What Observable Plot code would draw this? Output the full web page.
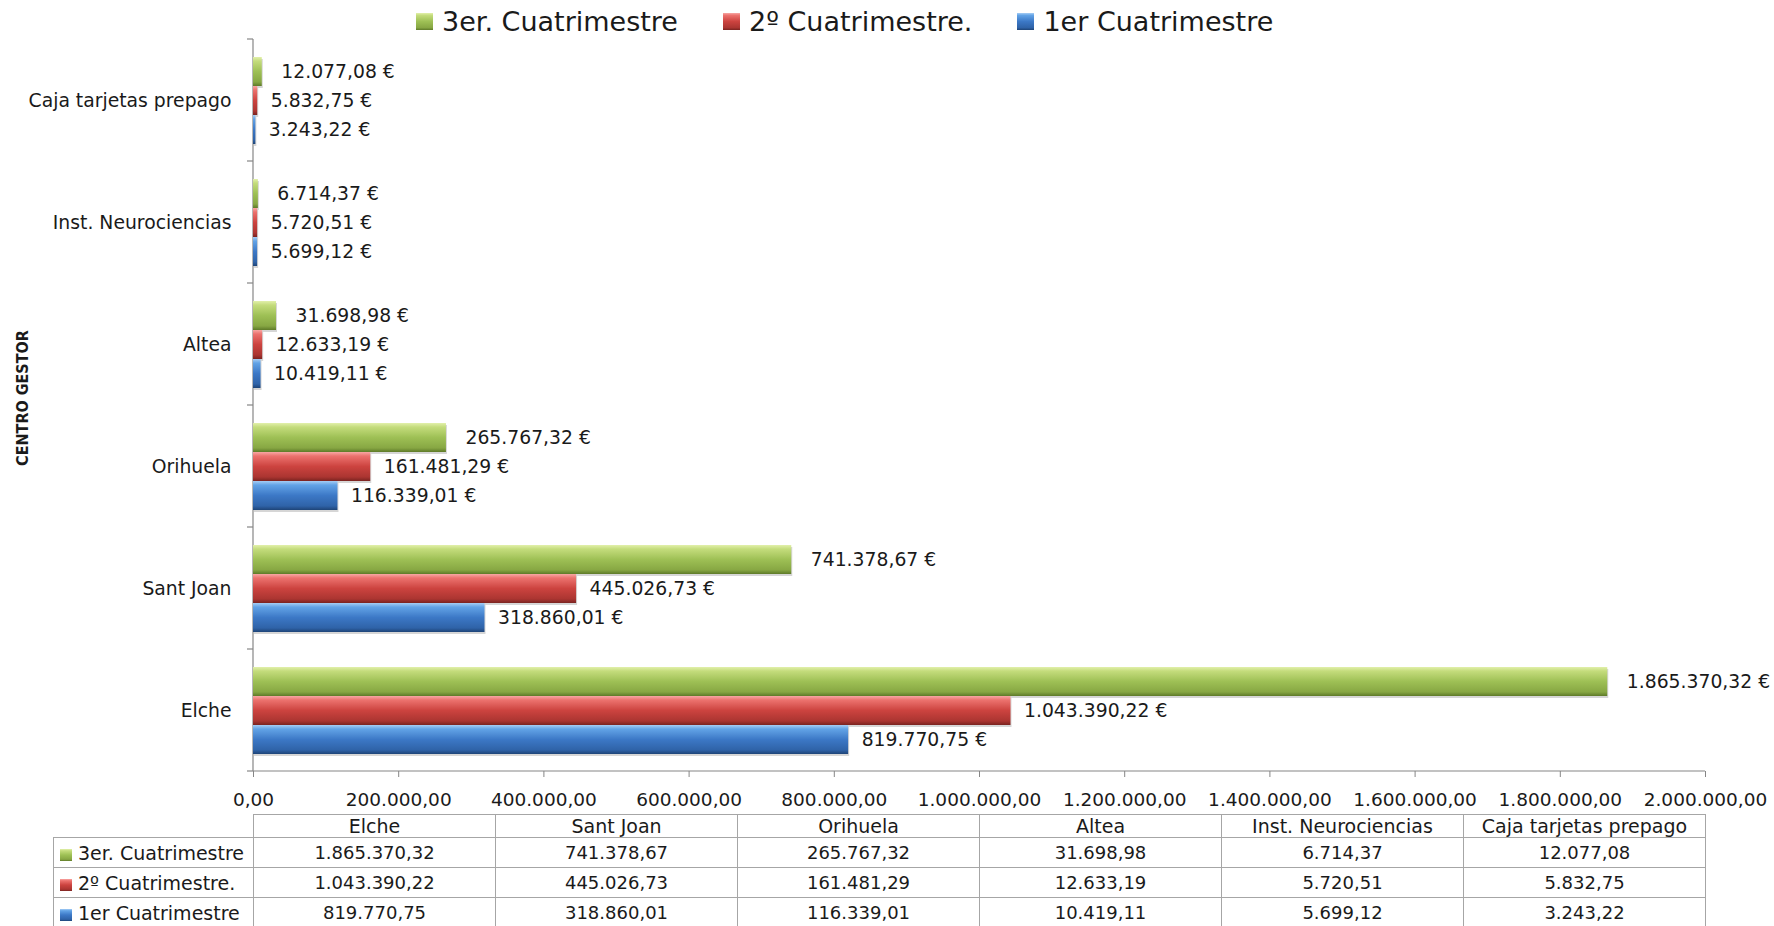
<!DOCTYPE html>
<html>
<head>
<meta charset="utf-8">
<script src="https://cdn.jsdelivr.net/npm/d3@7"></script>
<script src="https://cdn.jsdelivr.net/npm/@observablehq/plot@0.6"></script>
<style>
  html, body { margin: 0; padding: 0; background: #fff; }
  body { width: 1774px; height: 926px; overflow: hidden; position: relative; font-family: "DejaVu Sans", sans-serif; color: #1a1a1a; }
  #legend { height: 36px; display: flex; align-items: center; padding-left: 416px; font-size: 27px; box-sizing: border-box; padding-top: 6px; }
  #legend .item { display: flex; align-items: center; margin-right: 45px; }
  #legend .sw { width: 17px; height: 17px; margin-right: 9px; }
  #ylabel { position: absolute; left: 22px; top: 398px; transform: translate(-50%, -50%) rotate(-90deg); white-space: nowrap; font-family: "DejaVu Sans Condensed", "DejaVu Sans", sans-serif; font-weight: bold; font-size: 16px; }
  #chart svg { display: block; overflow: visible; }
  table { border-collapse: collapse; margin-left: 53px; table-layout: fixed; font-size: 18px; color: #1a1a1a; }
  td { border: 1px solid #a6a6a6; text-align: center; padding: 0; white-space: nowrap; overflow: hidden; }
  td.blank { border: none; }
  tr.head td { height: 22px; font-size: 19px; }
  tr.row td { height: 29px; }
  td.lab { text-align: left; padding-left: 6px; font-size: 19px; }
  td.lab .sw { display: inline-block; width: 12px; height: 12px; margin-right: 6px; vertical-align: -1px; }
</style>
</head>
<body>
<div id="legend"></div>
<div id="ylabel">CENTRO GESTOR</div>
<div id="chart"></div>
<div id="table"></div>
<script>
// ---- data ----
const categories = ["Elche", "Sant Joan", "Orihuela", "Altea", "Inst. Neurociencias", "Caja tarjetas prepago"];
const seriesNames = ["3er. Cuatrimestre", "2º Cuatrimestre.", "1er Cuatrimestre"];
const values3er = [1865370.32, 741378.67, 265767.32, 31698.98, 6714.37, 12077.08];
const values2o = [1043390.22, 445026.73, 161481.29, 12633.19, 5720.51, 5832.75];
const values1er = [819770.75, 318860.01, 116339.01, 10419.11, 5699.12, 3243.22];
const xTicks = [0, 200000, 400000, 600000, 800000, 1000000, 1200000, 1400000, 1600000, 1800000, 2000000];
const yTitle = "CENTRO GESTOR";

(function () {
const seriesValues = [values3er, values2o, values1er];
const data = [];
seriesNames.forEach((s, si) => categories.forEach((c, ci) => data.push({category: c, series: s, value: seriesValues[si][ci]})));

const loc = d3.formatLocale({decimal: ",", thousands: ".", grouping: [3], currency: ["", " €"]});
const fmtNum = loc.format(",.2f");
const fmtEur = loc.format("$,.2f");

// gradient styles
const grads = [
  {id: "gGreen", stops: [[0, "#e2f0ab"], [0.14, "#c4dc7c"], [0.5, "#9ec055"], [0.86, "#87a743"], [1, "#5e7a29"]]},
  {id: "gRed", stops: [[0, "#f7a7a4"], [0.14, "#ec726e"], [0.5, "#cc433f"], [0.86, "#ab3531"], [1, "#7a2320"]]},
  {id: "gBlue", stops: [[0, "#a6cdf4"], [0.14, "#62a3e6"], [0.5, "#3c78c6"], [0.86, "#2f63a8"], [1, "#1e4477"]]}
];
const cssGrad = g => "linear-gradient(to bottom, " + g.stops.map(([o, c]) => `${c} ${o * 100}%`).join(", ") + ")";

// legend
const legend = document.getElementById("legend");
seriesNames.forEach((s, i) => {
  const it = document.createElement("div"); it.className = "item";
  const sw = document.createElement("div"); sw.className = "sw"; sw.style.background = cssGrad(grads[i]);
  const tx = document.createElement("span"); tx.textContent = s;
  it.appendChild(sw); it.appendChild(tx); legend.appendChild(it);
});
document.getElementById("ylabel").textContent = yTitle;

const catsTopDown = categories.slice().reverse();

const chart = Plot.plot({
  width: 1774, height: 778,
  marginTop: 0, marginBottom: 41, marginLeft: 253, marginRight: 69,
  style: {fontFamily: "'DejaVu Sans', sans-serif", color: "#1a1a1a", background: "transparent", overflow: "visible"},
  x: {domain: [0, 2000000], label: null},
  y: {domain: seriesNames, paddingInner: 0, paddingOuter: 0.55, axis: null, label: null},
  fy: {domain: catsTopDown, padding: 0, label: null},
  color: {domain: seriesNames, range: grads.map(g => `url(#${g.id})`)},
  marks: [
    Plot.axisX({ticks: xTicks, tickFormat: fmtNum, tickSize: 6, tickPadding: 15, fontSize: 18.5, stroke: "#868686", fill: "#1a1a1a", label: null}),
    Plot.axisFy({anchor: "left", tickSize: 0, tickPadding: 22, fontSize: 18.8, fill: "#1a1a1a", label: null}),
    Plot.barX(data, {x: "value", y: "series", fy: "category", fill: "#000", fillOpacity: 0.16, dx: 1, dy: 2}),
    Plot.barX(data, {x: "value", y: "series", fy: "category", fill: "series"}),
    Plot.text(data.filter(d => d.series === seriesNames[0]), {x: "value", y: "series", fy: "category", text: d => fmtEur(d.value), textAnchor: "start", dx: 19, fontSize: 18.8, fill: "#1a1a1a"}),
    Plot.text(data.filter(d => d.series !== seriesNames[0]), {x: "value", y: "series", fy: "category", text: d => fmtEur(d.value), textAnchor: "start", dx: 13, fontSize: 18.8, fill: "#1a1a1a"})
  ]
});
document.getElementById("chart").appendChild(chart);

// gradients + axis lines through the plot's own scales
const svg = d3.select(chart);
const defs = svg.insert("defs", ":first-child");
grads.forEach(g => {
  const lg = defs.append("linearGradient").attr("id", g.id).attr("x1", 0).attr("y1", 0).attr("x2", 0).attr("y2", 1);
  g.stops.forEach(([o, c]) => lg.append("stop").attr("offset", o).attr("stop-color", c));
});
const sx = chart.scale("x"), sfy = chart.scale("fy");
const bw = sfy.bandwidth;
const x0 = sx.apply(0), x1 = sx.apply(2000000);
const yTop = sfy.apply(catsTopDown[0]);
const yBottom = sfy.apply(catsTopDown[catsTopDown.length - 1]) + bw;
const lines = svg.insert("g", "defs + *").attr("stroke", "#868686").attr("stroke-width", 1.2);
lines.append("line").attr("x1", x0).attr("x2", x0).attr("y1", yTop).attr("y2", yBottom);
lines.append("line").attr("x1", x0).attr("x2", x1).attr("y1", yBottom).attr("y2", yBottom);
catsTopDown.forEach(c => {
  const y = sfy.apply(c);
  lines.append("line").attr("x1", x0 - 6).attr("x2", x0).attr("y1", y).attr("y2", y);
});
lines.append("line").attr("x1", x0 - 6).attr("x2", x0).attr("y1", yBottom).attr("y2", yBottom);

// data table
const colW = 242, firstW = 200;
let html = `<table><colgroup><col style="width:${firstW}px">` + categories.map(() => `<col style="width:${colW}px">`).join("") + `</colgroup>`;
html += `<tr class="head"><td class="blank"></td>` + categories.map(c => `<td>${c}</td>`).join("") + `</tr>`;
seriesNames.forEach((s, i) => {
  html += `<tr class="row"><td class="lab"><span class="sw" style="background:${cssGrad(grads[i])}"></span>${s}</td>` +
    seriesValues[i].map(v => `<td>${fmtNum(v)}</td>`).join("") + `</tr>`;
});
html += `</table>`;
document.getElementById("table").innerHTML = html;
})();
</script>
</body>
</html>
